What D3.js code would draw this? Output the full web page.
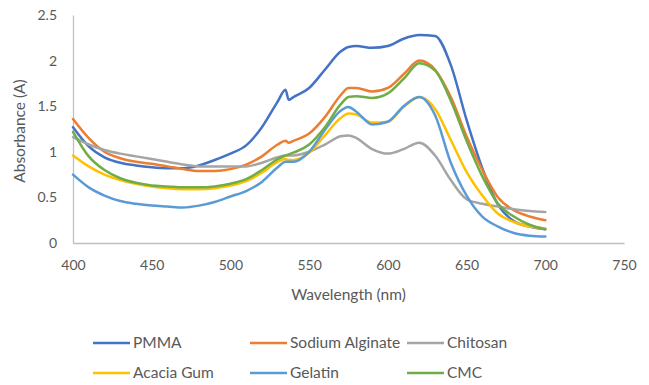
<!DOCTYPE html>
<html>
<head>
<meta charset="utf-8">
<script src="https://d3js.org/d3.v7.min.js"></script>
<style>
  body { margin: 0; background: #fff; }
  svg text { font-family: Lato, "Noto Sans", sans-serif; fill: #595959; }
</style>
</head>
<body>
<div id="chart"></div>
<script>
// wavelength grid (nm) shared by all series
const wavelengths = [400,410,420,430,440,450,460,470,480,490,500,510,520,530,535,537,540,550,560,570,575,580,590,600,610,620,630,640,650,660,670,680,690,700];

const pmma     = [1.27,1.06,0.94,0.88,0.85,0.83,0.82,0.82,0.85,0.91,0.98,1.07,1.27,1.55,1.68,1.57,1.60,1.70,1.90,2.10,2.15,2.16,2.14,2.16,2.24,2.28,2.27,1.95,1.35,0.82,0.42,0.24,0.18,0.15];
const alginate = [1.36,1.15,1.00,0.93,0.89,0.87,0.84,0.81,0.79,0.79,0.81,0.86,0.95,1.08,1.12,1.10,1.12,1.20,1.38,1.62,1.70,1.70,1.66,1.70,1.85,2.00,1.90,1.60,1.17,0.80,0.50,0.36,0.29,0.25];
const chitosan = [1.16,1.08,1.02,0.98,0.95,0.92,0.89,0.86,0.84,0.84,0.84,0.84,0.88,0.94,0.96,0.96,0.96,1.00,1.08,1.17,1.18,1.15,1.03,0.98,1.03,1.10,0.96,0.69,0.48,0.43,0.40,0.37,0.35,0.34];
const acacia   = [0.96,0.84,0.75,0.69,0.65,0.62,0.60,0.59,0.59,0.60,0.63,0.68,0.77,0.89,0.92,0.91,0.91,0.99,1.18,1.37,1.42,1.41,1.32,1.33,1.49,1.60,1.47,1.13,0.78,0.52,0.32,0.23,0.18,0.16];
const gelatin  = [0.75,0.61,0.52,0.46,0.43,0.41,0.40,0.39,0.41,0.45,0.51,0.57,0.67,0.83,0.89,0.89,0.89,1.00,1.24,1.45,1.49,1.44,1.30,1.33,1.50,1.60,1.40,0.88,0.52,0.29,0.18,0.11,0.08,0.07];
const cmc      = [1.22,0.95,0.80,0.71,0.66,0.63,0.62,0.61,0.61,0.62,0.65,0.70,0.80,0.92,0.96,0.97,0.99,1.08,1.27,1.52,1.60,1.61,1.59,1.64,1.80,1.97,1.89,1.56,1.12,0.73,0.43,0.29,0.20,0.15];

const seriesNames  = ["PMMA", "Sodium Alginate", "Chitosan", "Acacia Gum", "Gelatin", "CMC"];
const seriesValues = [pmma, alginate, chitosan, acacia, gelatin, cmc];
const colors = ["#4472C4", "#ED7D31", "#A5A5A5", "#FFC000", "#5B9BD5", "#70AD47"];

const xTicks = [400,450,500,550,600,650,700,750];
const yTicks = [0,0.5,1,1.5,2,2.5];

const W = 649, H = 385;
const svg = d3.select("#chart").append("svg").attr("width", W).attr("height", H);

const x = d3.scaleLinear().domain([400, 750]).range([73, 624]);
const y = d3.scaleLinear().domain([0, 2.5]).range([243, 15]);

// axes
const xAxis = svg.append("g").attr("transform", `translate(0,${y(0)})`)
  .call(d3.axisBottom(x).tickValues(xTicks).tickSize(0).tickPadding(17));
const yAxis = svg.append("g").attr("transform", `translate(${x(400)},0)`)
  .call(d3.axisLeft(y).tickValues(yTicks).tickSize(0).tickPadding(16).tickFormat(d3.format("")));
[xAxis, yAxis].forEach(a => {
  a.select(".domain").attr("stroke", "#bfbfbf").attr("stroke-width", 1.3);
  a.selectAll("text").style("font-size", "14px").attr("fill", "#595959");
});

// series lines
const line = d3.line()
  .x((d, i) => x(wavelengths[i]))
  .y(d => y(d))
  .curve(d3.curveMonotoneX);

seriesValues.forEach((vals, k) => {
  svg.append("path")
    .datum(vals)
    .attr("fill", "none")
    .attr("stroke", colors[k])
    .attr("stroke-width", 2.5)
    .attr("stroke-linejoin", "round")
    .attr("stroke-linecap", "round")
    .attr("d", line);
});

// axis titles
svg.append("text")
  .attr("x", (x(400) + x(750)) / 2).attr("y", 300)
  .attr("text-anchor", "middle").style("font-size", "15.5px")
  .text("Wavelength (nm)");
svg.append("text")
  .attr("transform", "translate(25,131) rotate(-90)")
  .attr("text-anchor", "middle").style("font-size", "15.5px")
  .text("Absorbance (A)");

// legend: 3 columns, 2 rows
const legend = svg.append("g");
seriesNames.forEach((name, k) => {
  const col = k % 3, row = Math.floor(k / 3);
  const lx = 93 + col * 157, ly = 343 + row * 30;
  const g = legend.append("g").attr("transform", `translate(${lx},${ly})`);
  g.append("line").attr("x1", 0).attr("x2", 37).attr("y1", 0).attr("y2", 0)
    .attr("stroke", colors[k]).attr("stroke-width", 2.5);
  g.append("text").attr("x", 40).attr("y", 0).attr("dy", "0.35em")
    .style("font-size", "15.5px").text(name);
});
</script>
</body>
</html>
